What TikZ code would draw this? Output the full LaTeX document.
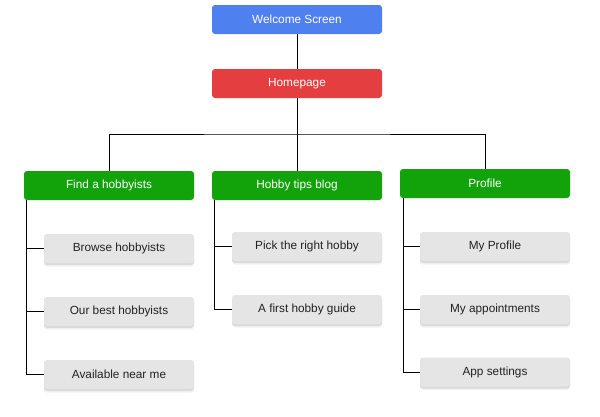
\documentclass[tikz,border=0pt]{standalone}
\usepackage{fontspec}
\setmainfont{Liberation Sans}
\usetikzlibrary{shadows,calc}
\definecolor{cblue}{HTML}{4F80F0}
\definecolor{cred}{HTML}{E53E40}
\definecolor{cgreen}{HTML}{12A30A}
\definecolor{cgray}{HTML}{E5E5E5}
\definecolor{ctext}{HTML}{222222}
\begin{document}
\begin{tikzpicture}[x=1pt,y=-1pt,
  box/.style={rounded corners=3pt, inner sep=0pt, font=\fontsize{11.8}{13}\selectfont, text=white},
  topbox/.style={box, minimum width=170pt, minimum height=29pt},
  childbox/.style={box, minimum width=150pt, minimum height=29pt, fill=cgray, text=ctext,
     drop shadow={shadow xshift=0pt, shadow yshift=-2pt, opacity=0.2, fill=black!50},
     drop shadow={shadow xshift=0pt, shadow yshift=-3.5pt, opacity=0.1, fill=black!50}},
  link/.style={line width=1pt, black}]
\useasboundingbox (0,0) rectangle (600,416);
\fill[white] (0,0) rectangle (600,416);
\node[topbox, fill=cblue] (welcome) at (297,19.5) {Welcome Screen};
\node[topbox, fill=cred] (home) at (297,83.5) {Homepage};
\node[topbox, fill=cgreen] (find) at (109,185.5) {Find a hobbyists};
\node[topbox, fill=cgreen] (blog) at (297,185.5) {Hobby tips blog};
\node[topbox, fill=cgreen] (profile) at (485,183.5) {Profile};
\node[childbox] (browse) at (119,248.5) {Browse hobbyists};
\node[childbox] (best) at (119,311.5) {Our best hobbyists};
\node[childbox] (avail) at (119,374.5) {Available near me};
\node[childbox] (pick) at (307,246.5) {Pick the right hobby};
\node[childbox] (guide) at (307,309.5) {A first hobby guide};
\node[childbox] (myprof) at (495,246.5) {My Profile};
\node[childbox] (appt) at (495,309.5) {My appointments};
\node[childbox] (settings) at (495,372) {App settings};
\coordinate (bus) at (297,134);
\draw[link] (welcome) -- (home);
\draw[link] (home) -- (blog);
\draw[link] (find.north) |- (bus) -| (profile.north);
\draw[link] ($(find.south west)+(3,0)$) |- (browse.west);
\draw[link] ($(find.south west)+(3,0)$) |- (best.west);
\draw[link] ($(find.south west)+(3,0)$) |- (avail.west);
\draw[link] ($(blog.south west)+(3,0)$) |- (pick.west);
\draw[link] ($(blog.south west)+(3,0)$) |- (guide.west);
\draw[link] ($(profile.south west)+(4,0)$) |- (myprof.west);
\draw[link] ($(profile.south west)+(4,0)$) |- (appt.west);
\draw[link] ($(profile.south west)+(4,0)$) |- (settings.west);
\end{tikzpicture}
\end{document}
